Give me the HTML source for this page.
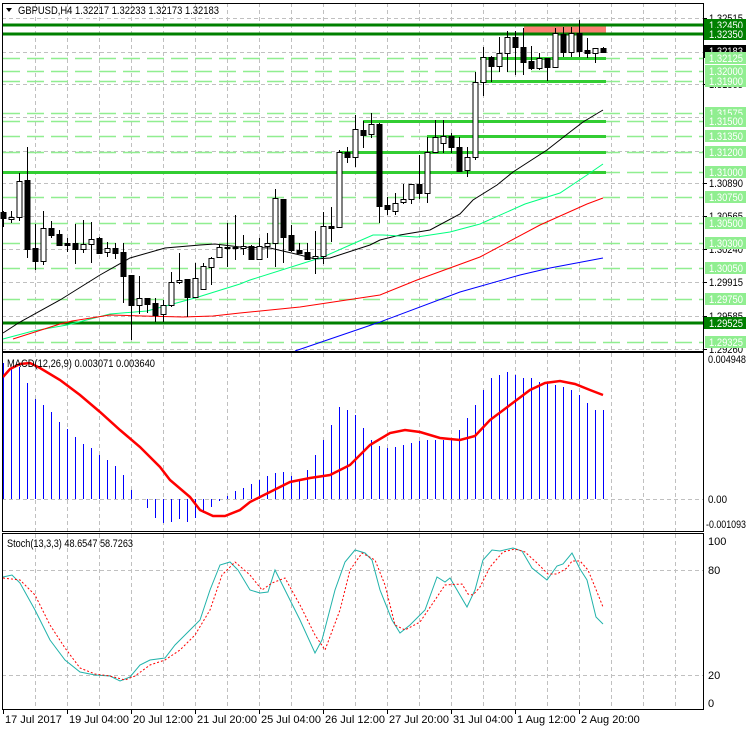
<!DOCTYPE html>
<html><head><meta charset="utf-8"><style>
body{margin:0;background:#fff;}
svg{display:block;font-family:"Liberation Sans",sans-serif;font-size:11px;}
</style></head><body>
<svg id="s" width="746" height="731" xmlns="http://www.w3.org/2000/svg"></svg>
<script>
const s=document.getElementById('s');let h='';
function L(x1,y1,x2,y2,c,w,d){h+=`<line x1="${x1}" y1="${y1}" x2="${x2}" y2="${y2}" stroke="${c}" stroke-width="${w||1}" ${d?`stroke-dasharray="${d}"`:''}/>`;}
function P(pts,c,w,d){h+=`<polyline fill="none" points="${pts.map(p=>p.join(',')).join(' ')}" stroke="${c}" stroke-width="${w||1}" ${d?`stroke-dasharray="${d}"`:''}/>`;}
function T(x,y,t,c,tl){h+=`<text x="${x}" y="${y}" fill="${c||'#000'}" ${tl?`textLength="${tl}" lengthAdjust="spacingAndGlyphs"`:''}>${t}</text>`;}
const G='#c0c0c0';
for(let x=35;x<703;x+=32){L(x+.5,3,x+.5,351,G,1,'4 3');L(x+.5,353,x+.5,532,G,1,'4 3');L(x+.5,534,x+.5,709,G,1,'4 3');}
[18,52,84,117,151,183,216,249,282,316,349].forEach(y=>L(2,y+.5,703,y+.5,G,1,'4 3'));
L(2,499.5,703,499.5,G,1,'4 3');[570,675].forEach(y=>L(2,y+.5,703,y+.5,G,1,'4 3'));
const lg=[58,71,81,113,121,136,152,172,197,223,243,268,299,342];
lg.forEach(y=>L(3,y+.5,703,y+.5,'#90ee90',1.5,'17 7'));
h+=`<rect x="524" y="26" width="82" height="8" fill="#fa8072"/>`;
[[58,480],[81,480],[121,363],[136,427],[152,340],[172,3]].forEach(a=>L(a[1],a[0]+.5,606,a[0]+.5,'#32cd32',3));
[25,34,323].forEach(y=>L(3,y,703,y,'#008000',3));
P([[3,333],[20,322],[60,300],[100,275],[130,258],[165,248],[200,245],[215,244],[240,247],[270,248],[300,255],[315,259],[330,258],[370,245],[380,240],[400,235],[430,230],[460,214],[473,200],[497,185],[513,172],[547,150],[570,132],[583,122],[603,110]],'#000');
P([[3,339],[33,331],[67,325],[110,314],[147,311],[195,298],[240,284],[250,280],[323,257],[357,242],[373,235],[383,235],[417,237],[450,232],[480,224],[525,204],[560,193],[587,175],[603,164]],'#00ff7f');
P([[13,339],[60,324],[72,321],[110,315],[143,316],[183,317],[213,316],[240,313],[300,307],[380,295],[417,280],[480,257],[540,225],[587,204],[603,198]],'#ff0000');
P([[295,351],[380,322],[460,292],[520,275],[550,268],[603,258]],'#0000ff');
const C=[[212,218,211,227,1],[217,219,211,223,0],[181,217,173,221,0],[180,249,147,258,1],[248,261,224,270,1],[228,261,211,265,0],[228,235,221,238,1],[234,245,230,245,1],[243,245,238,252,1],[243,249,224,264,1],[244,249,220,253,0],[239,244,222,263,0],[238,253,237,253,1],[248,252,242,257,0],[248,253,243,259,1],[252,276,243,303,1],[275,305,275,340,1],[298,305,276,314,0],[298,304,298,313,1],[303,315,298,322,1],[305,314,300,322,0],[282,305,272,307,0],[280,282,253,284,0],[279,297,279,317,1],[278,297,263,297,0],[266,289,263,289,0],[258,267,257,285,0],[247,257,245,257,0],[247,248,223,267,0],[247,248,215,260,1],[246,248,235,255,0],[246,259,245,260,1],[246,259,238,259,0],[243,246,233,258,0],[198,243,189,267,0],[199,237,199,263,1],[235,250,225,252,1],[250,253,243,253,1],[252,259,243,260,1],[256,258,231,274,0],[226,256,212,264,0],[226,228,207,242,1],[152,227,150,228,0],[152,157,147,163,1],[129,157,115,167,0],[130,135,121,148,1],[124,134,113,138,0],[124,206,123,223,1],[205,209,197,215,1],[203,211,193,215,0],[199,202,184,204,0],[184,199,184,204,0],[184,193,155,199,1],[152,193,137,203,0],[137,152,120,152,0],[136,143,120,153,0],[136,147,133,153,1],[147,171,137,171,1],[157,170,147,177,0],[82,157,72,160,0],[57,82,47,96,0],[57,66,56,82,1],[53,66,37,72,0],[37,53,31,72,0],[37,47,31,75,1],[47,62,28,75,1],[61,68,46,70,1],[58,68,53,70,0],[58,67,58,81,1],[33,67,28,68,0],[34,52,27,57,1],[33,52,27,57,0],[33,51,20,57,1],[50,53,38,58,1],[48,53,48,63,0],[48,52,47,53,1]];
C.forEach((c,i)=>{const x=3+8*i;L(x+.5,c[2],x+.5,c[3],'#000');h+=`<rect x="${x-2}" y="${c[0]+.5}" width="5" height="${Math.max(c[1]-c[0],1)}" fill="${c[4]?'#000':'#fff'}" stroke="#000"/>`;});
const H=[363,369,367,383,399,405,412,422,429,437,444,448,455,460,466,475,490,499,508,518,523,522,519,522,518,513,507,501,496,491,488,484,480,476,473,472,476,480,470,455,440,425,407,410,415,428,440,446,448,447,445,443,441,440,440,440,438,430,418,405,390,378,375,372,375,378,378,382,383,385,387,390,395,403,410,410];
H.forEach((y,i)=>{const x=3+8*i+.5;if(y!=499)L(x,499,x,y,'#0000ff',1);});
P([[3,377],[10,369],[20,364],[30,363],[40,368],[60,380],[80,395],[100,412],[120,430],[140,447],[160,467],[170,480],[190,497],[200,510],[213,516],[225,516],[240,510],[250,502],[270,492],[290,482],[310,478],[330,475],[350,465],[370,445],[390,433],[405,430],[420,432],[440,438],[460,440],[475,436],[490,420],[510,405],[530,390],[545,383],[560,381],[575,384],[590,390],[603,395]],'#ff0000',2.5);
P([[3,577],[12,575],[20,583],[35,610],[50,640],[65,660],[80,672],[95,675],[110,676],[120,681],[130,677],[140,665],[150,660],[165,658],[175,645],[190,630],[200,620],[210,590],[220,565],[230,562],[238,570],[250,590],[260,593],[268,592],[275,570],[285,590],[300,620],[315,653],[322,640],[335,590],[345,562],[355,550],[365,553],[372,560],[380,590],[392,620],[400,633],[410,625],[425,610],[437,577],[445,582],[450,578],[467,607],[475,590],[483,560],[492,550],[500,551],[513,548],[522,551],[532,568],[547,580],[557,566],[563,564],[572,553],[580,569],[587,580],[596,617],[603,624]],'#20b2aa');
P([[3,578],[20,580],[35,595],[50,625],[65,648],[80,668],[95,674],[110,676],[125,680],[135,676],[150,665],[165,660],[180,650],[195,635],[210,610],[222,575],[235,562],[250,575],[262,590],[272,583],[285,578],[300,605],[315,635],[325,650],[340,610],[350,570],[362,553],[375,560],[385,585],[395,625],[405,630],[420,622],[435,600],[445,585],[462,584],[468,594],[473,595],[480,587],[490,567],[503,552],[515,549],[525,552],[537,563],[548,574],[557,574],[567,568],[572,561],[580,561],[588,570],[595,587],[603,607]],'#ff0000',1,'2 2');
h+=`<rect x="2.5" y="3.5" width="701" height="348" fill="none" stroke="#000"/><rect x="2.5" y="352.5" width="701" height="179" fill="none" stroke="#000"/><rect x="2.5" y="533.5" width="701" height="176" fill="none" stroke="#000"/>`;
h+=`<polygon points="6,8 12,8 9,12" fill="#000"/>`;
T(18,14,'GBPUSD,H4  1.32217 1.32233 1.32173 1.32183','#000',201);
T(7,367,'MACD(12,26,9) 0.003071 0.003640','#000',148);T(7,547,'Stoch(13,3,3) 48.6547 58.7263','#000',126);
[[18,'1.32515'],[84,'1.31865'],[183,'1.30890'],[216,'1.30565'],[249,'1.30240'],[282,'1.29915'],[316,'1.29585'],[349,'1.29260']].forEach(a=>{L(703,a[0]+.5,707,a[0]+.5,'#000');T(709,a[0]+4,a[1],'#000',34);});
h+=`<rect x="704" y="45" width="42" height="13" fill="#000"/>`;T(709,55,'1.32183','#fff',34);
[[58,'1.32125'],[71,'1.32000'],[81,'1.31900'],[113,'1.31575'],[121,'1.31500'],[136,'1.31350'],[152,'1.31200'],[172,'1.31000'],[197,'1.30750'],[223,'1.30500'],[243,'1.30300'],[268,'1.30050'],[299,'1.29750'],[342,'1.29325']].forEach(a=>{h+=`<rect x="705" y="${a[0]-6}" width="41" height="12" fill="#90ee90"/>`;T(709,a[0]+4,a[1],'#fff',34);});
[[25,'1.32450'],[34,'1.32350'],[323,'1.29525']].forEach(a=>{h+=`<rect x="704" y="${a[0]-6}" width="42" height="12" fill="#008000"/>`;T(709,a[0]+4,a[1],'#fff',34);});
T(708,363,'0.004948','#000',38);T(708,503,'0.00','#000',19);T(706,528,'-0.001093','#000',40);
T(708,545,'100');T(708,574,'80');T(708,679,'20');T(708,707,'0');
['17 Jul 2017','19 Jul 04:00','20 Jul 12:00','21 Jul 20:00','25 Jul 04:00','26 Jul 12:00','27 Jul 20:00','31 Jul 04:00','1 Aug 12:00','2 Aug 20:00'].forEach((t,i)=>{const x=3+64*i;L(x+.5,710,x+.5,714,'#000');T(x+2,723,t);});
s.innerHTML=h;
</script>
</body></html>
